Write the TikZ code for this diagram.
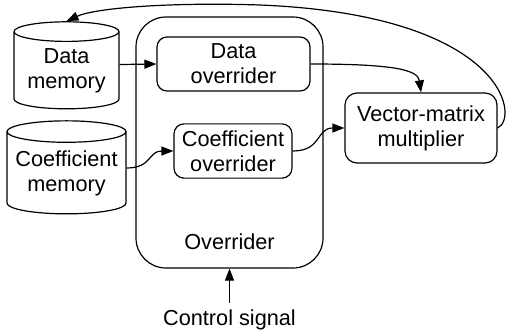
\documentclass[tikz,border=0pt]{standalone}
\usepackage{fontspec}
\setmainfont{Liberation Sans}
\usetikzlibrary{shapes.geometric, arrows.meta, positioning}

\begin{document}
\begin{tikzpicture}[
      x=0.5pt, y=-0.5pt,
      font=\fontsize{10.85}{12.5}\selectfont,
      memory/.style={cylinder, shape border rotate=90, draw, align=center, inner sep=0pt},
      block/.style={rectangle, draw, rounded corners=5pt, align=center},
      outer/.style={rectangle, draw, rounded corners=15pt},
      arrow/.style={-{Triangle[length=6pt, width=4.5pt]}},
      line width=0.6pt
      ]

      \useasboundingbox (0,0) rectangle (507,333);

      % Overrider
      \node[outer, minimum width=93.5pt, minimum height=125.5pt] (ovr) at (229.5,142.5) {};
      \node[above=6pt of ovr.south] (ovrlabel) {Overrider};

      \node[block, minimum width=76.5pt, minimum height=27pt] (dov) at (233.5,64) {Data\\overrider};
      \node[block, minimum width=59pt, minimum height=26pt] (cov) at (233,151) {Coefficient\\overrider};

      % Memories
      \node[memory, aspect=0.25, minimum width=52.5pt, minimum height=43.5pt] (dmem) at (66.5,70.5) {Data\\memory};
      \node[memory, aspect=0.21, minimum width=59.5pt, minimum height=46.5pt] (cmem) at (66.5,173) {Coefficient\\memory};

      % Multiplier
      \node[block, rounded corners=6pt, minimum width=76pt, minimum height=35pt] (vmm) at (421,128) {Vector-matrix\\multiplier};

      % Control
      \node[below=17pt of ovr] (ctrl) {Control signal};

      % Arrows
      \draw[arrow] ([yshift=3pt]dmem.east) -- (dov.west);
      \draw[arrow] ([yshift=2.5pt]cmem.east) .. controls (152,168) and (148,151) .. (cov.west);
      \draw[arrow] (dov.east) .. controls (395,64) and (418,70) .. (vmm.north);
      \draw[arrow] (cov.east) .. controls (322,151) and (316,128) .. (vmm.west);
      \draw[arrow] (ctrl) -- (ovr);

      % Feedback
      \draw[arrow] (vmm.east) .. controls (520,118) and (505,15) .. (260,5)
            .. controls (170,2) and (95,8) .. (dmem.north);

   \end{tikzpicture}
\end{document}
